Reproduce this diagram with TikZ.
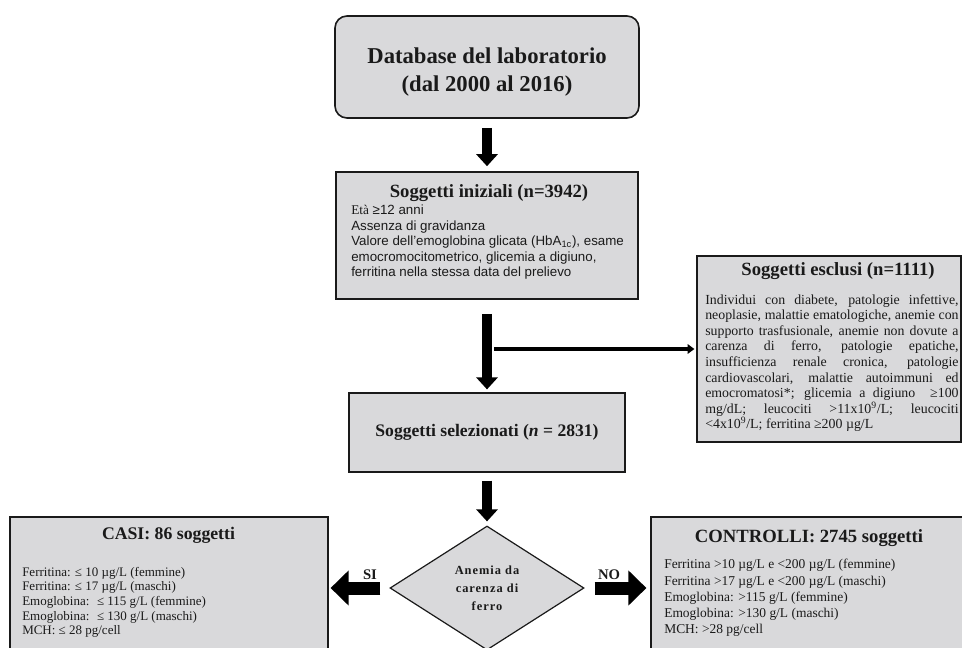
\documentclass[tikz,border=0pt]{standalone}
\usepackage{fontspec}
\setmainfont{Liberation Serif}
\setsansfont{Liberation Sans}
\usepackage{xcolor}
\usetikzlibrary{arrows.meta, calc, shapes.geometric}
\definecolor{boxgray}{RGB}{217,217,219}
\definecolor{inkgray}{RGB}{26,26,26}
\newcommand{\fsz}[2]{\fontsize{#1}{#2}\selectfont}

\begin{document}
\begin{tikzpicture}[x=0.75pt, y=-0.75pt, every node/.style={text=inkgray},
  box/.style={draw=inkgray, fill=boxgray, line width=0.9pt, inner sep=0pt},
  boxtitle/.style={font=\bfseries\fsz{14}{16}, inner sep=0pt},
  boxbody/.style={anchor=north west, align=left, inner sep=0pt},
  bigarrow/.style={line width=7.5pt, -{Triangle[width=15.75pt, length=9pt]}},
  sidearrow/.style={line width=9.75pt, -{Triangle[width=25.5pt, length=13.5pt]}},
  thinarrow/.style={line width=3pt, -{Triangle[width=7pt, length=5pt]}}]
  \useasboundingbox (0,0) rectangle (962,648);
  \fill[white] (0,0) rectangle (962,648);
  \clip (0,0) rectangle (962,648);

  \node[box, rounded corners=9pt, line width=1.2pt, minimum width=228pt, minimum height=76.5pt, align=center, font=\bfseries\fsz{17}{21}] (db) at (487,67) {\rule{0pt}{19pt}Database del laboratorio\\(dal 2000 al 2016)};

  \node[box, line width=1.2pt, minimum width=226.5pt, minimum height=95.25pt] (ini) at (487,235.5) {};
  \node[boxtitle] (initit) at (489,193) {Soggetti iniziali (n=3942)};
  \node[boxbody, font=\sffamily\fsz{10}{11.6}] (inibody) at (351,205) {{\rmfamily Età} ≥12 anni\\Assenza di gravidanza\\Valore dell’emoglobina glicata (HbA\textsubscript{1c}), esame\\emocromocitometrico, glicemia a digiuno,\\ferritina nella stessa data del prelievo};

  \node[box, minimum width=198pt, minimum height=139.5pt] (excl) at (829,349) {};
  \node[boxtitle] (excltit) at (838,271) {Soggetti esclusi (n=1111)};
  \node[boxbody, text width=190pt, align=justify, font=\fsz{10.4}{11.7}] (exclbody) at (705,294) {Individui con diabete, patologie infettive,\linebreak neoplasie, malattie ematologiche, anemie con\linebreak supporto trasfusionale, anemie non dovute a\linebreak carenza di ferro, patologie epatiche,\linebreak insufficienza renale cronica, patologie\linebreak cardiovascolari, malattie autoimmuni ed\linebreak emocromatosi*; glicemia a digiuno \ ≥100\linebreak mg/dL; leucociti >11x10\textsuperscript{9}/L; leucociti\linebreak <4x10\textsuperscript{9}/L; ferritina ≥200 µg/L};

  \node[box, minimum width=207pt, minimum height=59.25pt, font=\bfseries\fsz{13.2}{15}] (sel) at (487,432.5) {Soggetti selezionati (\textit{n} = 2831)};

  \node[box, diamond, aspect=1.565, minimum width=145.5pt, minimum height=93pt, align=center, font=\bfseries\fsz{9.3}{13.5}\addfontfeatures{LetterSpace=8}] (dec) at (487,588) {Anemia da\\carenza di\\ferro};

  \node[box, minimum width=238.5pt, minimum height=106.5pt] (casi) at (169,588) {};
  \node[boxtitle, font=\bfseries\fsz{13.3}{15}] (casitit) at (168.5,535) {CASI: 86 soggetti};
  \node[boxbody, font=\fsz{9.75}{10.9}] (casibody) at (22,567) {Ferritina: ≤ 10 µg/L (femmine)\\Ferritina: ≤ 17 µg/L (maschi)\\Emoglobina: \ ≤ 115 g/L (femmine)\\Emoglobina: \ ≤ 130 g/L (maschi)\\MCH: ≤ 28 pg/cell};

  \node[box, minimum width=237.75pt, minimum height=106.5pt] (ctrl) at (809.5,588) {};
  \node[boxtitle] (ctrltit) at (809,538) {CONTROLLI: 2745 soggetti};
  \node[boxbody, font=\fsz{10.1}{12.2}] (ctrlbody) at (664,559) {Ferritina >10 µg/L e <200 µg/L (femmine)\\Ferritina >17 µg/L e <200 µg/L (maschi)\\Emoglobina: >115 g/L (femmine)\\Emoglobina: >130 g/L (maschi)\\MCH: >28 pg/cell};

  \node[font=\bfseries\fsz{11}{13}, inner sep=0pt] (si) at (370,575) {SI};
  \node[font=\bfseries\fsz{11}{13}, inner sep=0pt] (no) at (609,575) {NO};

  \coordinate (split) at (ini.south |- excl.west);
  \draw[bigarrow, shorten <=6.75pt, shorten >=3.75pt] (db.south) -- (ini.north);
  \draw[bigarrow, shorten <=10.5pt, shorten >=2.25pt] (ini.south) -- (sel.north);
  \draw[thinarrow, shorten <=5.25pt, shorten >=1.5pt] (split) -- (excl.west);
  \draw[bigarrow, shorten <=6pt, shorten >=3pt] (sel.south) -- (dec.north);
  \draw[sidearrow, shorten <=6.75pt, shorten >=1.5pt] (dec.west) -- (casi.east);
  \draw[sidearrow, shorten <=7.5pt, shorten >=3pt] (dec.east) -- (ctrl.west);
\end{tikzpicture}
\end{document}
